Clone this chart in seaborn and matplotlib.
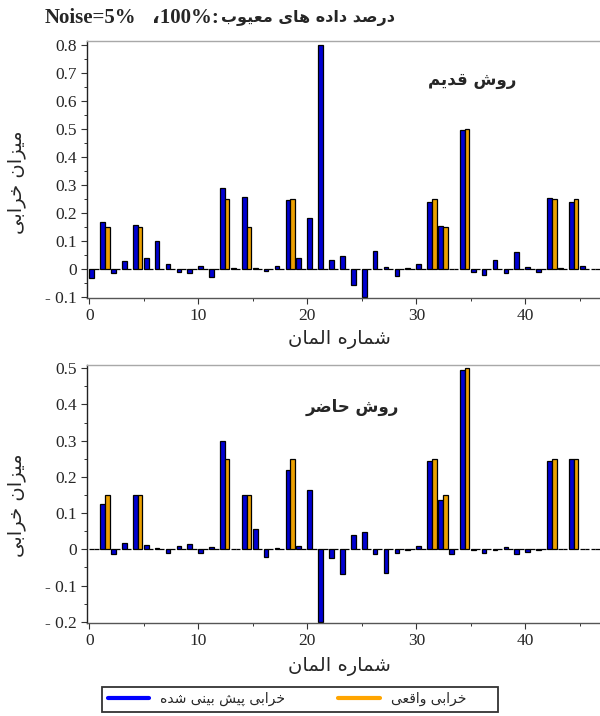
import matplotlib
matplotlib.use('Agg')
import pandas as pd
import matplotlib.pyplot as plt
import seaborn as sns
from matplotlib import font_manager
from matplotlib.ft2font import FT2Font
from matplotlib.lines import Line2D
from matplotlib.ticker import MultipleLocator, FuncFormatter

# ---- data ----
elements = list(range(47))

actual_damage = [0, 0.15, 0, 0, 0.15, 0, 0, 0, 0, 0,
                 0, 0, 0.25, 0, 0.15, 0, 0, 0, 0.25, 0,
                 0, 0, 0, 0, 0, 0, 0, 0, 0, 0,
                 0, 0.25, 0.15, 0, 0.5, 0, 0, 0, 0, 0,
                 0, 0, 0.25, 0, 0.25, 0, 0]

old_pred = [-0.033, 0.167, -0.015, 0.029, 0.155, 0.039, 0.100, 0.017, -0.013, -0.015,
            0.010, -0.030, 0.288, 0.003, 0.255, 0.003, -0.010, 0.010, 0.246, 0.037,
            0.180, 0.800, 0.032, 0.044, -0.057, -0.102, 0.064, 0.006, -0.025, 0.002,
            0.017, 0.237, 0.151, -0.002, 0.497, -0.012, -0.021, 0.030, -0.015, 0.058,
            0.007, -0.012, 0.252, 0.002, 0.237, 0.010, 0.0]

new_pred = [0.002, 0.124, -0.014, 0.017, 0.150, 0.013, 0.004, -0.009, 0.009, 0.014,
            -0.009, 0.006, 0.300, 0.002, 0.149, 0.055, -0.021, 0.003, 0.220, 0.009,
            0.165, -0.200, -0.025, -0.069, 0.041, 0.048, -0.012, -0.064, -0.009, -0.003,
            0.009, 0.245, 0.136, -0.012, 0.495, -0.002, -0.009, -0.003, 0.007, -0.012,
            -0.006, -0.002, 0.243, 0.002, 0.250, 0.002, 0.0]

title_latin = "Noise=5%"
title_num = "100%"
title_fa = "درصد داده های معیوب"
ylabel_fa = "میزان خرابی"
xlabel_fa = "شماره المان"
old_name = "روش قدیم"
new_name = "روش حاضر"
pred_name = "خرابی پیش بینی شده"
actual_name = "خرابی واقعی"

BLUE = '#0000D2'
ORANGE = '#EBA000'

# ---- minimal arabic-script shaping (matplotlib has no shaping engine) ----
FORMS = {
    'ا': (0xFE8D, 0xFE8E, None, None),
    'ب': (0xFE8F, 0xFE90, 0xFE91, 0xFE92),
    'پ': (0xFB56, 0xFB57, 0xFB58, 0xFB59),
    'ت': (0xFE95, 0xFE96, 0xFE97, 0xFE98),
    'ح': (0xFEA1, 0xFEA2, 0xFEA3, 0xFEA4),
    'خ': (0xFEA5, 0xFEA6, 0xFEA7, 0xFEA8),
    'د': (0xFEA9, 0xFEAA, None, None),
    'ر': (0xFEAD, 0xFEAE, None, None),
    'ز': (0xFEAF, 0xFEB0, None, None),
    'ش': (0xFEB5, 0xFEB6, 0xFEB7, 0xFEB8),
    'ص': (0xFEB9, 0xFEBA, 0xFEBB, 0xFEBC),
    'ض': (0xFEBD, 0xFEBE, 0xFEBF, 0xFEC0),
    'ع': (0xFEC9, 0xFECA, 0xFECB, 0xFECC),
    'ق': (0xFED5, 0xFED6, 0xFED7, 0xFED8),
    'ل': (0xFEDD, 0xFEDE, 0xFEDF, 0xFEE0),
    'م': (0xFEE1, 0xFEE2, 0xFEE3, 0xFEE4),
    'ن': (0xFEE5, 0xFEE6, 0xFEE7, 0xFEE8),
    'ه': (0xFEE9, 0xFEEA, 0xFEEB, 0xFEEC),
    'و': (0xFEED, 0xFEEE, None, None),
    'ی': (0xFBFC, 0xFBFD, 0xFBFE, 0xFBFF),
}
YEH_FALLBACK = (0xFEEF, 0xFEF0, 0xFEF3, 0xFEF4)

_font = FT2Font(font_manager.findfont(font_manager.FontProperties(family='DejaVu Sans')))
if any(_font.get_char_index(c) == 0 for c in FORMS['ی']):
    FORMS['ی'] = YEH_FALLBACK


def shape(text):
    res = []
    prev_joins = False
    i = 0
    while i < len(text):
        c = text[i]
        if c == 'ل' and i + 1 < len(text) and text[i + 1] == 'ا':
            res.append(chr(0xFEFC if prev_joins else 0xFEFB))
            prev_joins = False
            i += 2
            continue
        if c not in FORMS:
            res.append(c)
            prev_joins = False
            i += 1
            continue
        iso, fin, ini, med = FORMS[c]
        nxt = text[i + 1] if i + 1 < len(text) else None
        next_joins = ini is not None and nxt in FORMS
        if prev_joins and next_joins:
            g = med
        elif prev_joins:
            g = fin
        elif next_joins:
            g = ini
        else:
            g = iso
        res.append(chr(g))
        prev_joins = next_joins
        i += 1
    return ''.join(res)


def fa(text):
    # shaped, in visual (left-to-right) order
    return shape(text)[::-1]


sns.set_style('ticks')
plt.rcParams['font.family'] = ['DejaVu Sans']
SERIF = ['Liberation Serif', 'DejaVu Sans']


def yfmt(v, pos):
    if abs(v) < 1e-9:
        return '0'
    s = f'{abs(v):.1f}'
    return '- ' + s if v < 0 else s


def draw(ax, pred, ylim):
    df = pd.DataFrame({
        'pos': [e + 0.43 for e in elements] * 2,
        'val': list(pred) + list(actual_damage),
        'kind': [pred_name] * len(elements) + [actual_name] * len(elements),
    })
    sns.barplot(data=df, x='pos', y='val', hue='kind',
                hue_order=[pred_name, actual_name], palette=[BLUE, ORANGE],
                native_scale=True, width=0.86, gap=0, dodge=True,
                errorbar=None, saturation=1, edgecolor='black',
                linewidth=0.9, legend=False, ax=ax)
    ax.set_xlim(-0.24, 46.85)
    ax.set_ylim(*ylim)
    ax.xaxis.set_major_locator(MultipleLocator(10))
    ax.xaxis.set_minor_locator(MultipleLocator(5))
    ax.xaxis.set_major_formatter(FuncFormatter(lambda v, p: f'{v:.0f}'))
    ax.yaxis.set_major_locator(MultipleLocator(0.1))
    ax.yaxis.set_minor_locator(MultipleLocator(0.05))
    ax.yaxis.set_major_formatter(FuncFormatter(yfmt))
    ax.tick_params(which='major', direction='out', length=4, width=0.8,
                   labelsize=12.5, pad=3, color='#333333')
    ax.tick_params(which='minor', direction='out', length=2.5, width=0.7,
                   color='#333333')
    for lab in ax.get_xticklabels() + ax.get_yticklabels():
        lab.set_family(SERIF)
    ax.spines['right'].set_visible(False)
    ax.spines['top'].set_color('#a8a8a8')
    ax.spines['left'].set_color('#222222')
    ax.spines['bottom'].set_color('#555555')
    for sp in ax.spines.values():
        sp.set_linewidth(1.0)
    ax.set_xlabel(fa(xlabel_fa), fontsize=14, va='center')
    ax.set_ylabel(fa(ylabel_fa), fontsize=14, va='center')


fig = plt.figure(figsize=(6, 7.16), dpi=100)
ax1 = fig.add_axes([0.1445, 0.5838, 0.8555, 0.3589])
ax2 = fig.add_axes([0.1445, 0.1295, 0.8555, 0.3607])

draw(ax1, old_pred, (-0.105, 0.814))
draw(ax2, new_pred, (-0.204, 0.509))

ax1.xaxis.set_label_coords(0.4915, -0.163)
ax1.yaxis.set_label_coords(-0.136, 0.45)
ax2.xaxis.set_label_coords(0.4915, -0.169)
ax2.yaxis.set_label_coords(-0.136, 0.458)

ax1.text(0.7506, 0.848, fa(old_name), transform=ax1.transAxes,
         ha='center', va='center', fontsize=12, fontweight='bold')
ax2.text(0.517, 0.837, fa(new_name), transform=ax2.transAxes,
         ha='center', va='center', fontsize=12, fontweight='bold')

# title line
fig.text(45 / 600, 1 - 18 / 716, title_latin, family=SERIF, fontweight='bold',
         fontsize=15, ha='left', va='center')
fig.text(152 / 600, 1 - 18 / 716, '،' + title_num + ':',
         family=SERIF, fontweight='bold', fontsize=15, ha='left', va='center')
fig.text(221 / 600, 1 - 18 / 716, fa(title_fa), fontweight='bold',
         fontsize=11.5, ha='left', va='center')

# legend
handles = [Line2D([0], [0], color='#0000FF', lw=3),
           Line2D([0], [0], color='#FFA500', lw=3)]
leg = fig.legend(handles, [fa(pred_name), fa(actual_name) + '      '], ncol=2,
                 loc='lower left', mode='expand',
                 bbox_to_anchor=(102 / 600, 1 - 712 / 716, 396 / 600, 25 / 716),
                 borderaxespad=0, frameon=True, fancybox=False,
                 edgecolor='black', handlelength=3.0,
                 prop={'size': 10})
leg.get_frame().set_linewidth(1.3)

fig.savefig('out.png', dpi=100)
